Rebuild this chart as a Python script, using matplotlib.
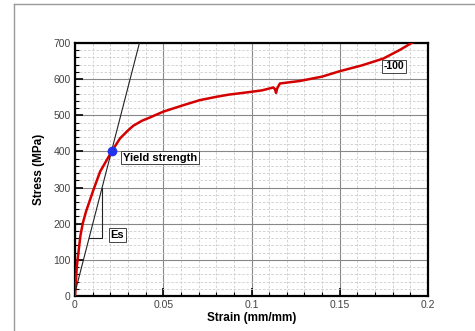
import matplotlib
matplotlib.use("Agg")
import matplotlib.pyplot as plt
from matplotlib.ticker import MultipleLocator
from matplotlib.lines import Line2D

plt.rcParams['font.family'] = ['Liberation Sans', 'DejaVu Sans']

strain = [0, 0.0005, 0.001, 0.0019, 0.003, 0.0044, 0.0062, 0.0085, 0.0104, 0.0142,
          0.0175, 0.0208, 0.0255, 0.03, 0.033, 0.038, 0.0425, 0.0453, 0.05, 0.0614,
          0.0708, 0.08, 0.0869, 0.0935, 0.1, 0.106, 0.1124, 0.1133, 0.1139, 0.1146,
          0.1161, 0.1275, 0.14, 0.15, 0.1625, 0.1747, 0.1841, 0.1917]
stress = [0, 40, 80, 118, 165, 201, 233, 266, 293, 344,
          372, 400, 436, 458, 471, 485, 494, 500, 510, 528,
          542, 551, 557, 561, 565, 569, 577, 572, 562, 575,
          588, 595, 607, 622, 638, 657, 681, 703]

es_strain = [0.0004, 0.0365]
es_stress = [17, 700]
tri_strain = [0.0081, 0.0151, 0.0151]
tri_stress = [160, 160, 298]
yield_pt = (0.0208, 400)

xticks = [0, 0.05, 0.1, 0.15, 0.2]
xticklabels = ['0', '0.05', '0.1', '0.15', '0.2']
yticks = [0, 100, 200, 300, 400, 500, 600, 700]

fig = plt.figure(figsize=(4.75, 3.31), dpi=100)
ax = fig.add_axes([75/475, 35/331, 353/475, 253/331])

ax.plot(strain, stress, color='#d40000', lw=1.8, zorder=3)
ax.plot(es_strain, es_stress, color='#222222', lw=0.8, zorder=3)
ax.plot(tri_strain, tri_stress, color='#222222', lw=0.8, zorder=3)
ax.plot([yield_pt[0]], [yield_pt[1]], 'o', color='#2233ee', ms=6, zorder=4)

box = dict(boxstyle='square,pad=0.15', fc='white', ec='#444444', lw=0.7)
ax.text(0.0272, 383, 'Yield strength', fontsize=8, fontweight='bold', ha='left', va='center', bbox=box, zorder=5)
ax.text(0.0200, 169, 'Es', fontsize=8, fontweight='bold', ha='left', va='center', bbox=box, zorder=5)
ax.text(0.1748, 636, '-100', fontsize=7.5, fontweight='bold', ha='left', va='center', bbox=box, zorder=5)

ax.set_xlim(0, 0.2)
ax.set_ylim(0, 700)
ax.set_xticks(xticks)
ax.set_xticklabels(xticklabels)
ax.set_yticks(yticks)
ax.xaxis.set_minor_locator(MultipleLocator(0.01))
ax.yaxis.set_minor_locator(MultipleLocator(20))
ax.grid(which='major', color='#888888', lw=0.8, ls='-')
ax.grid(which='minor', color='#cccccc', lw=0.6, ls=(0, (3, 2)))
ax.set_axisbelow(True)
ax.tick_params(which='major', direction='in', length=6, width=1.2, labelsize=7.5,
               labelcolor='#444444', top=False, right=False, pad=3)
ax.tick_params(which='minor', direction='in', length=3, width=0.8, top=False, right=False)
for s in ax.spines.values():
    s.set_linewidth(1.6)
    s.set_color('black')

ax.set_xlabel('Strain (mm/mm)', fontsize=8.5, fontweight='bold', labelpad=1)
ax.set_ylabel('Stress (MPa)', fontsize=8.5, fontweight='bold', labelpad=6)

fig.add_artist(Line2D([14/475, 1], [1 - 4/331, 1 - 4/331], color='#999999', lw=1, transform=fig.transFigure))
fig.add_artist(Line2D([14/475, 14/475], [0, 1 - 4/331], color='#999999', lw=1, transform=fig.transFigure))

fig.savefig('out.png', dpi=100)
